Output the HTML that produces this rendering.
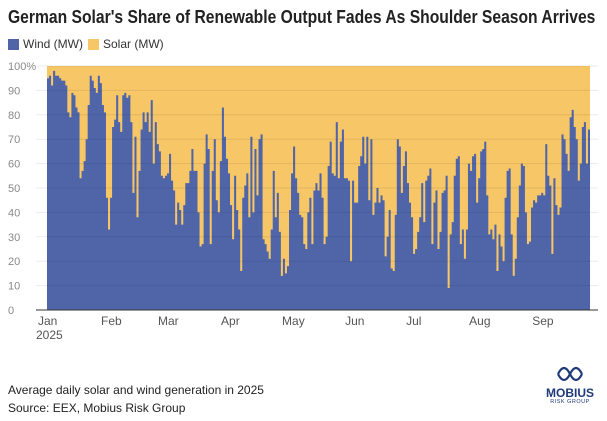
<!DOCTYPE html>
<html><head><meta charset="utf-8"><style>
body{margin:0;width:607px;height:421px;background:#fff;font-family:"Liberation Sans",sans-serif;overflow:hidden;position:relative}
.t{position:absolute;left:8px;top:7px;font-size:18px;font-weight:bold;color:#222;white-space:nowrap;transform:scaleX(0.87);transform-origin:0 0}
.lg{position:absolute;top:37px;font-size:12px;color:#333;display:flex;align-items:center}
.sw{width:11px;height:11px;margin-right:4px}
.f{position:absolute;left:8px;font-size:12px;color:#222}
</style></head><body>
<div class="t">German Solar's Share of Renewable Output Fades As Shoulder Season Arrives</div>
<div class="lg" style="left:8px"><div class="sw" style="background:#5065a8"></div>Wind (MW)</div>
<div class="lg" style="left:88px"><div class="sw" style="background:#f6c667"></div>Solar (MW)</div>
<svg id="c" width="607" height="350" style="position:absolute;left:0;top:0"></svg>
<div class="f" style="top:383px">Average daily solar and wind generation in 2025</div>
<div class="f" style="top:401px">Source: EEX, Mobius Risk Group</div>
<div style="position:absolute;left:538px;top:366px;width:64px;text-align:center;color:#1f3a78">
<svg width="30" height="16" viewBox="0 0 30 16"><path d="M3 8c4-8 8-8 12 0s8 8 12 0M3 8c4 8 8 8 12 0s8-8 12 0" fill="none" stroke="#1f3a78" stroke-width="2.2"/></svg>
<div style="font-size:12px;font-weight:bold;line-height:12px">MOBIUS</div>
<div style="font-size:5.5px;letter-spacing:0.5px">RISK GROUP</div></div>
<script>
const windShare=[95,96,92,98,96,96,95,94,94,92,81,79,89,88,83,81,54,57,61,70,84,96,94,91,89,96,93,84,81,46,33,46,75,78,88,77,73,88,89,87,88,
77,48,71,38,57,74,81,77,81,73,86,60,77,68,65,55,54,55,56,64,53,49,35,44,41,35,43,52,52,57,66,57,57,40,26,27,60,72,66,27,57,70,45,40,61,83,71,
62,56,43,29,55,41,33,16,46,51,56,38,71,40,66,47,70,72,29,27,24,21,33,57,38,48,32,14,21,15,18,41,56,67,54,48,39,38,27,25,40,46,27,49,52,49,56,
46,27,30,59,69,56,55,77,54,69,74,54,54,53,20,53,44,44,59,63,71,60,71,45,70,39,44,50,44,47,45,22,30,41,17,16,39,70,67,48,59,65,52,44,38,23,25,
32,38,52,36,53,55,58,27,44,49,25,32,48,49,55,9,31,36,55,62,63,27,33,21,33,60,57,63,64,44,54,65,66,69,47,31,33,29,35,16,31,26,20,46,57,58,31,
14,21,38,51,60,59,40,27,28,42,45,44,47,47,48,47,68,55,51,23,54,43,39,42,72,70,64,57,79,82,75,70,53,60,75,77,60,74];
const yTicks=[0,10,20,30,40,50,60,70,80,90,100];
const monthLabels=["Jan","Feb","Mar","Apr","May","Jun","Jul","Aug","Sep"];
const monthStartDays=[0,31,59,90,120,151,181,212,243];
const NS="http://www.w3.org/2000/svg",svg=document.getElementById('c');
const X0=47,X1=590,Y0=310,Y1=66,N=windShare.length,dw=(X1-X0)/N;
const xs=d=>X0+d*dw, ys=v=>Y0-(v/100)*(Y0-Y1);
function mk(t,a){const e=document.createElementNS(NS,t);for(const k in a)e.setAttribute(k,a[k]);svg.appendChild(e);return e;}
const bg=mk('rect',{x:X0,y:ys(100),width:X1-X0,height:Y0-Y1,fill:'#f6c667'});


let p='M'+xs(0)+','+Y0;
windShare.forEach((v,i)=>{p+=' L'+xs(i)+','+ys(v)+' L'+xs(i+1)+','+ys(v);});
p+=' L'+xs(N)+','+Y0+' Z';
const wa=mk('path',{d:p,fill:'#5065a8'});


yTicks.forEach(v=>{
 const g=mk('line',{x1:36,x2:598,y1:ys(v),y2:ys(v),stroke:v===0?'#333':'rgba(0,0,0,0.08)','stroke-width':1});
 
 
 const t=mk('text',{x:8,y:ys(v)+4,'font-size':11,fill:'#888'});
 t.textContent=v===100?'100%':v;
 
 
});
monthLabels.forEach((m,i)=>{
 const t=mk('text',{x:xs(monthStartDays[i])-9,y:325,'font-size':12,fill:'#555'});
 t.textContent=m;
 
 
});
const yr=mk('text',{x:36,y:339,'font-size':12,fill:'#555'});yr.textContent='2025';


</script>
</body></html>
